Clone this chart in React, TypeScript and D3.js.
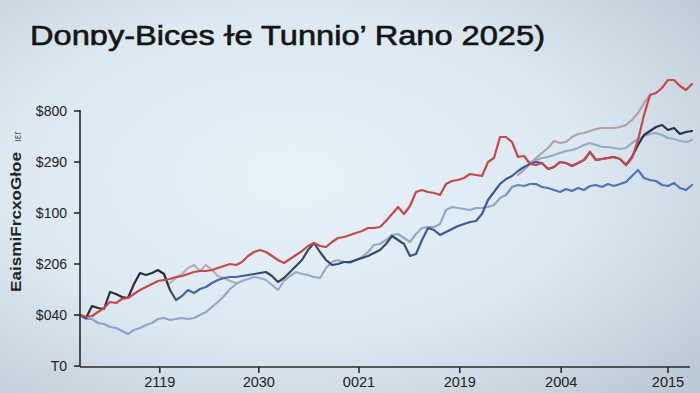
import React from 'react';
import * as d3 from 'd3';

const title = "Donɒy-Bices ɫe Tunnio’ Rano 2025)";
const yAxisTitle = "EaismiFrcxoGłoe";
const yAxisTitleSuffix = "ıεr";

const xTickIndex = [13.3, 29.8, 46.5, 63.3, 80.2, 98];
const xTickLabels = ["2119", "2030", "0021", "2019", "2004", "2015"];
const yTickValues = [0, 51, 102, 153, 204, 255];
const yTickLabels = ["T0", "$040", "$206", "$100", "$290", "$800"];

const redValues = [
  51, 49, 50, 54, 58, 64, 63, 67, 68, 72,
  76, 79, 82, 85, 86, 87, 89, 90, 92, 94,
  95, 95, 96, 98, 100, 102, 101, 104, 110, 114,
  116, 114, 110, 106, 103, 107, 111, 115, 120, 123,
  120, 119, 124, 128, 129, 131, 133, 135, 138, 138,
  139, 145, 152, 159, 152, 160, 174, 176, 174, 173,
  171, 182, 185, 186, 188, 192, 191, 190, 204, 208,
  229, 229, 224, 209, 210, 202, 201, 203, 197, 199,
  204, 203, 200, 203, 206, 214, 206, 207, 208, 209,
  207, 201, 208, 226, 251, 271, 273, 278, 286, 286,
  280, 276, 282,
];

const navyValues = [
  51, 48, 60, 58, 57, 74, 72, 69, 68, 82,
  93, 91, 93, 96, 92, 76, 66, 70, 76, 73,
  77, 79, 83, 86, 88, 89, 89, 90, 91, 92,
  93, 94, 90, 84, 88, 94, 100, 106, 116, 123,
  114, 106, 101, 102, 104, 104, 106, 108, 110, 113,
  116, 122, 130, 126, 122, 110, 112, 126, 138, 136,
  131, 134, 137, 140, 142, 144, 145, 152, 166, 174,
  182, 187, 190, 195, 199, 202, 204, 203, 197, 199,
  204, 203, 200, 203, 206, 214, 206, 207, 208, 209,
  207, 201, 209, 221, 231, 235, 239, 241, 236, 238,
  232, 234, 235,
];

const blueValues = [
  51, 47, 47, 43, 42, 39, 38, 35, 32, 36,
  38, 41, 43, 47, 48, 46, 47, 48, 47, 48,
  51, 54, 59, 64, 70, 77, 82, 85, 87, 89,
  88, 86, 81, 76, 85, 90, 94, 92, 91, 89,
  88, 98, 104, 106, 104, 103, 106, 109, 114, 121,
  122, 126, 131, 132, 128, 124, 132, 138, 139, 139,
  142, 156, 159, 158, 157, 156, 158, 158, 159, 161,
  168, 171, 179, 181, 180, 182, 182, 179, 178, 176,
  174, 177, 175, 178, 176, 180, 181, 179, 182, 180,
  182, 184, 190, 196, 188, 186, 185, 181, 180, 183,
  178, 176, 181,
];

const steelStart = 75;
const steelValues = [
  204, 206, 208, 209, 211, 213, 215, 216, 218, 221,
  223, 221, 219, 219, 218, 217, 218, 223, 227, 230,
  232, 233, 231, 228, 227, 225, 224, 226,
];

const mauveLeftStart = 15;
const mauveLeftValues = [83, 88, 92, 98, 101, 95, 101, 96, 90, 88, 85, 83];
const mauveRightStart = 73;
const mauveRightValues = [
  191, 196, 202, 208, 213, 218, 225, 223, 224, 229,
  232, 233, 235, 237, 238, 238, 238, 239, 241, 246,
  253, 263, 271,
];

const W = 700;
const H = 393;

const x = d3.scaleLinear().domain([0, 102]).range([80, 692]);
const y = d3.scaleLinear().domain([0, 256]).range([366, 110]);

type P = [number, number];
const toPts = (start: number, vals: number[]): P[] => vals.map((v, i) => [start + i, v]);
const line = d3
  .line<P>()
  .x((d) => x(d[0]))
  .y((d) => y(d[1]));

export default function App() {
  const series = [
    { id: 'steel', d: line(toPts(steelStart, steelValues)), stroke: '#95acc8' },
    { id: 'mauveL', d: line(toPts(mauveLeftStart, mauveLeftValues)), stroke: '#b9adb3' },
    { id: 'mauveR', d: line(toPts(mauveRightStart, mauveRightValues)), stroke: '#b3a0a8' },
    { id: 'blue', d: line(toPts(0, blueValues)), stroke: 'url(#gBlue)' },
    { id: 'navy', d: line(toPts(0, navyValues)), stroke: 'url(#gNavy)' },
    { id: 'red', d: line(toPts(0, redValues)), stroke: '#c8474b' },
  ];
  const font = "'Liberation Sans', Arial, sans-serif";
  return (
    <svg
      width={W}
      height={H}
      viewBox={`0 0 ${W} ${H}`}
      style={{ position: 'absolute', left: 0, top: 0, display: 'block' }}
    >
      <defs>
        <radialGradient id="bg" cx="42%" cy="45%" r="75%">
          <stop offset="0" stopColor="#e6f1f8" />
          <stop offset="0.55" stopColor="#dde9f1" />
          <stop offset="1" stopColor="#bccad6" />
        </radialGradient>
        <linearGradient id="gNavy" gradientUnits="userSpaceOnUse" x1={80} y1={0} x2={692} y2={0}>
          <stop offset="0" stopColor="#2a2e36" />
          <stop offset="0.14" stopColor="#2a2e36" />
          <stop offset="0.165" stopColor="#4466b0" />
          <stop offset="0.255" stopColor="#4466b0" />
          <stop offset="0.3" stopColor="#38435e" />
          <stop offset="0.52" stopColor="#37486e" />
          <stop offset="0.56" stopColor="#3a59a6" />
          <stop offset="0.75" stopColor="#3a59a6" />
          <stop offset="0.91" stopColor="#2a3350" />
          <stop offset="1" stopColor="#283048" />
        </linearGradient>
        <linearGradient id="gBlue" gradientUnits="userSpaceOnUse" x1={80} y1={0} x2={692} y2={0}>
          <stop offset="0" stopColor="#86a0cb" />
          <stop offset="0.3" stopColor="#9aabc4" />
          <stop offset="0.6" stopColor="#8ea8cf" />
          <stop offset="0.68" stopColor="#8ea8cf" />
          <stop offset="0.74" stopColor="#4e72c3" />
          <stop offset="1" stopColor="#4e72c3" />
        </linearGradient>
        <filter id="soft" x="-5%" y="-5%" width="110%" height="110%">
          <feGaussianBlur stdDeviation="0.45" />
        </filter>
      </defs>
      <rect x={0} y={0} width={W} height={H} fill="url(#bg)" />

      <text
        x={30}
        y={45}
        fontFamily={font}
        fontSize={27}
        fill="#151515"
        stroke="#151515"
        strokeWidth={0.6}
        textLength={515}
        lengthAdjust="spacingAndGlyphs"
      >
        {title}
      </text>

      <g transform="translate(21,292) rotate(-90)">
        <text x={0} y={0} fontFamily={font} fontSize={14} fontWeight="bold" fill="#222" textLength={140} lengthAdjust="spacingAndGlyphs">
          {yAxisTitle}
        </text>
        <text x={150} y={0} fontFamily={font} fontSize={10} fill="#555">
          {yAxisTitleSuffix}
        </text>
      </g>

      <g filter="url(#soft)">
        {series.map((s) => (
          <path
            key={s.id}
            d={s.d || ''}
            fill="none"
            stroke={s.stroke}
            strokeWidth={2.2}
            strokeLinejoin="round"
            strokeLinecap="round"
          />
        ))}
      </g>

      <g stroke="#2a2a2a" strokeWidth={1.6} fill="none">
        <line x1={80} y1={110} x2={80} y2={367} />
        <line x1={80} y1={367} x2={690} y2={367} />
        {yTickValues.map((v) => (
          <line key={'yt' + v} x1={74} x2={80} y1={y(v)} y2={y(v)} />
        ))}
        {xTickIndex.map((t) => (
          <line key={'xt' + t} x1={x(t)} x2={x(t)} y1={367} y2={373} />
        ))}
      </g>
      {yTickValues.map((v, i) => (
        <text
          key={'yl' + v}
          x={67}
          y={y(v)}
          dy="0.35em"
          textAnchor="end"
          fontFamily={font}
          fontSize={14}
          fill="#222"
        >
          {yTickLabels[i]}
        </text>
      ))}
      {xTickIndex.map((t, i) => (
        <text
          key={'xl' + t}
          x={x(t)}
          y={387}
          textAnchor="middle"
          fontFamily={font}
          fontSize={14.5}
          fill="#222"
        >
          {xTickLabels[i]}
        </text>
      ))}
    </svg>
  );
}
